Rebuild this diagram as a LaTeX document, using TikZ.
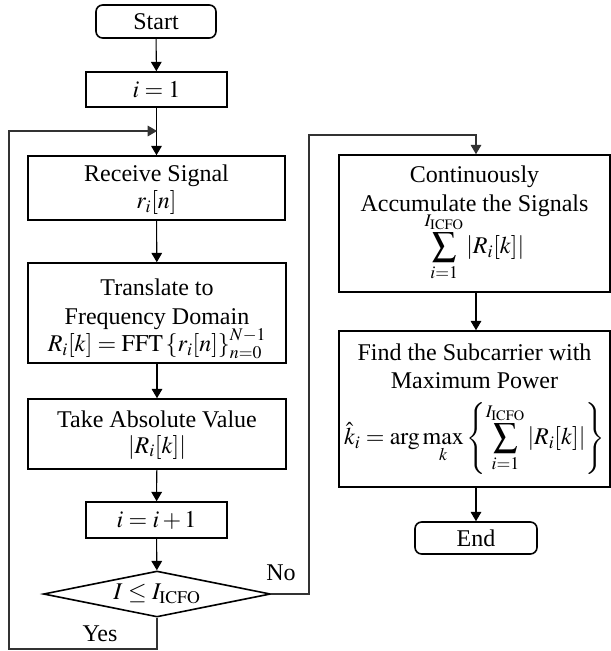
\documentclass[tikz,border=0pt]{standalone}
\usepackage{mathptmx}
\usepackage[no-math]{fontspec}
\setmainfont{Liberation Serif}
\usetikzlibrary{shapes.geometric,arrows.meta,calc}
\begin{document}
\begin{tikzpicture}[x=0.75pt,y=-0.75pt,
  txt/.style={font=\fontsize{18}{21.5}\selectfont},
  box/.style={txt,draw,line width=1.2pt,align=center,inner sep=0pt},
  term/.style={box,rounded corners=5pt},
  decision/.style={txt,draw,line width=1.2pt,diamond,inner sep=0pt,shape aspect=4.93},
  link/.style={line width=0.8pt,-{Triangle[width=8pt,length=7pt]}},
  loopline/.style={line width=0.8pt,black!80,-{Triangle[width=8pt,length=7pt]}},
]
\useasboundingbox (0,0) rectangle (611,651);

\node[term,minimum width=90pt,minimum height=24.75pt] (start) at (156,21.5) {Start};
\node[box,minimum width=105.75pt,minimum height=26.25pt] (init) at (156.5,89.5) {$i = 1$};
\node[box,minimum width=192.75pt,minimum height=48pt] (recv) at (156.5,188) {\rule{0pt}{15pt}Receive Signal\\[-1pt]$r_i[n]$};
\node[box,minimum width=193.5pt,minimum height=75pt] (trans) at (157,313) {\rule{0pt}{21pt}Translate to\\Frequency Domain\\[-1pt]$R_i[k]=\mathrm{FFT}\left\{r_i[n]\right\}_{n=0}^{N-1}$};
\node[box,minimum width=193.5pt,minimum height=52.5pt] (abs) at (157,434) {\rule{0pt}{14pt}Take Absolute Value\\[-2pt]$\left|R_i[k]\right|$};
\node[box,minimum width=105.75pt,minimum height=27pt] (inc) at (156.5,520) {$i = i + 1$};
\node[decision,minimum width=170.25pt,minimum height=34.5pt] (dec) at (157,594) {$I \le I_{\mathrm{ICFO}}$};

\node[box,minimum width=203.25pt,minimum height=102.75pt] (acc) at (474.5,223.5) {Continuously\\Accumulate the Signals\\[-4pt]$\displaystyle\sum_{i=1}^{I_{\mathrm{ICFO}}}\left|R_i[k]\right|$};
\node[box,minimum width=203.25pt,minimum height=117pt] (find) at (474.5,409) {Find the Subcarrier with\\Maximum Power\\[9pt]$\displaystyle \hat{k}_i=\arg\max_k\left\{\sum_{i=1}^{I_{\mathrm{ICFO}}}\left|R_i[k]\right|\right\}$};
\node[term,minimum width=91.5pt,minimum height=24pt] (stop) at (476,538) {End};

\node[txt] (no) at (281,573) {No};
\node[txt] (yes) at (100,634) {Yes};

\coordinate (j) at (157,131);
\coordinate (yl) at (9,649);
\coordinate (nr) at (309,135);

\draw[link] (start) -- (init);
\draw[link] (init) -- (recv);
\draw[link] (recv) -- (trans);
\draw[link] (trans) -- (abs);
\draw[link] (abs) -- (inc);
\draw[link] (inc) -- (dec);
\draw[loopline] (dec.south) |- (yl) |- (j);
\draw[loopline] (dec.east) -| (nr) -| (acc.north -| stop.north);
\draw[link] (acc.south -| stop.north) -- (find.north -| stop.north);
\draw[link] (find.south -| stop.north) -- (stop.north);
\end{tikzpicture}
\end{document}
